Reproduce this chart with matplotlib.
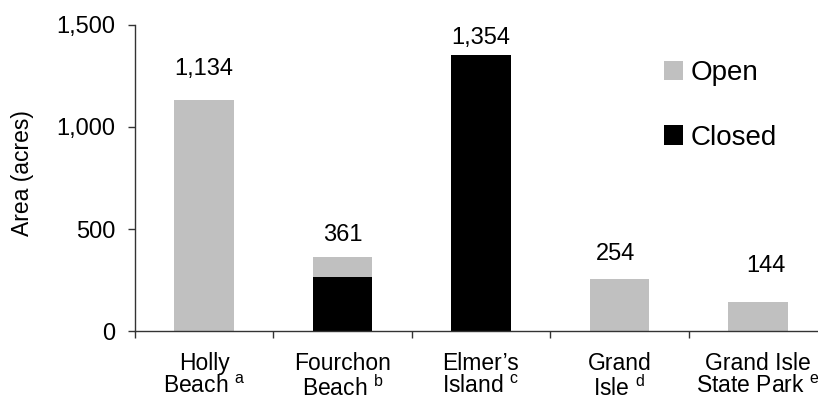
import matplotlib
matplotlib.use("Agg")
import matplotlib.pyplot as plt
from matplotlib.patches import Patch

plt.rcParams["font.family"] = ["Liberation Sans", "DejaVu Sans"]
plt.rcParams["mathtext.fontset"] = "custom"
plt.rcParams["mathtext.rm"] = "Liberation Sans"
plt.rcParams["mathtext.it"] = "Liberation Sans"

# Beach areas in acres
sites = ["Holly\nBeach $^{\\mathrm{a}}$",
         "Fourchon\nBeach $^{\\mathrm{b}}$",
         "Elmer\u2019s\nIsland $^{\\mathrm{c}}$",
         "Grand\nIsle $^{\\mathrm{d}}$",
         "Grand Isle\nState Park $^{\\mathrm{e}}$"]
closed_acres = [0, 265, 1354, 0, 0]
open_acres = [1134, 96, 0, 254, 144]
total_labels = ["1,134", "361", "1,354", "254", "144"]
y_ticks = [0, 500, 1000, 1500]
y_tick_labels = ["0", "500", "1,000", "1,500"]

# label placement (offset in points above the bar top)
label_dx = [0, 0, 0, -3, 6]
label_dy = [22, 16, 12, 18, 26]

GREY = "#C0C0C0"
W, H = 818, 401
fig = plt.figure(figsize=(W / 100, H / 100), dpi=100)
ax = fig.add_axes([135 / W, 1 - 331 / H, 692 / W, 306 / H])

x = list(range(len(sites)))
totals = [c + o for c, o in zip(closed_acres, open_acres)]
ax.bar(x, closed_acres, width=0.43, color="black", linewidth=0)
ax.bar(x, open_acres, bottom=closed_acres, width=0.43, color=GREY, linewidth=0)

for i, (t, lab) in enumerate(zip(totals, total_labels)):
    ax.annotate(lab, (i, t), xytext=(label_dx[i], label_dy[i]),
                textcoords="offset points", ha="center", va="center",
                fontsize=17, color="black")

ax.set_xlim(-0.5, len(sites) - 0.5)
ax.set_ylim(0, 1500)
ax.set_yticks(y_ticks)
ax.set_yticklabels(y_tick_labels)
ax.tick_params(axis="y", direction="out", length=5, width=1, pad=9,
               labelsize=17, color="#333333")

# boundary ticks between categories, names centred under each bar
ax.set_xticks([i - 0.5 for i in x] + [len(sites) - 0.5])
ax.set_xticklabels([])
ax.set_xticks(x, minor=True)
ax.set_xticklabels(sites, minor=True, fontsize=16.5, linespacing=1.0)
ax.tick_params(axis="x", which="major", direction="out", length=5, width=1,
               color="#333333")
ax.tick_params(axis="x", which="minor", length=0, pad=15)

for side in ("top", "right"):
    ax.spines[side].set_visible(False)
for side in ("left", "bottom"):
    ax.spines[side].set_color("#333333")
    ax.spines[side].set_linewidth(1)

fig.text(22 / W, 1 - 173 / H, "Area (acres)", rotation=90, ha="center",
         va="center", fontsize=16.5)

handles = [Patch(facecolor=GREY, edgecolor="none", label="Open"),
           Patch(facecolor="black", edgecolor="none", label="Closed")]
fig.legend(handles=handles, loc="upper left",
           bbox_to_anchor=(664 / W, 1 - 60 / H), frameon=False, fontsize=20,
           handlelength=0.7, handleheight=0.7, handletextpad=0.25,
           labelspacing=1.4, borderpad=0, borderaxespad=0)

fig.savefig("out.png", dpi=100)
